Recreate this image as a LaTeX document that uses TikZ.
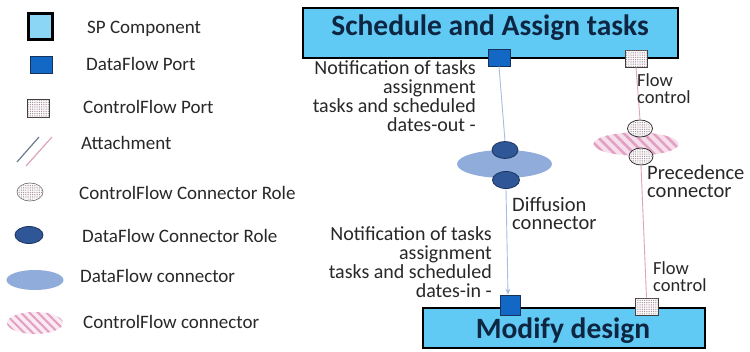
\documentclass[tikz,border=0pt]{standalone}
\usepackage{fontspec}
\setmainfont{Carlito}
\usetikzlibrary{shapes.geometric,patterns,patterns.meta,arrows.meta}
\definecolor{boxfill}{RGB}{96,202,245}
\definecolor{titlecol}{RGB}{14,38,66}
\definecolor{portblue}{RGB}{18,104,196}
\definecolor{portedge}{RGB}{20,50,90}
\definecolor{roleblue}{RGB}{47,86,150}
\definecolor{roleedge}{RGB}{28,52,96}
\definecolor{dconn}{RGB}{143,172,218}
\definecolor{hatchpink}{RGB}{226,160,196}
\definecolor{hatchbg}{RGB}{246,222,234}
\definecolor{dlinecol}{RGB}{168,190,222}
\definecolor{clinecol}{RGB}{222,164,186}
\definecolor{txt}{RGB}{40,40,40}
\definecolor{lightsp}{RGB}{140,214,245}
\definecolor{dotcol}{RGB}{150,120,135}
\tikzset{
  compbox/.style={draw=black, line width=2.6pt, fill=boxfill, rectangle, inner sep=0pt},
  dport/.style={draw=portedge, line width=0.6pt, fill=portblue, rectangle, inner sep=0pt},
  cport/.style={draw=black!75, line width=0.6pt, fill=white, rectangle, inner sep=0pt},
  dotfill/.style={draw=none, fill=none, pattern={Dots[distance=1.8pt,radius=0.5pt]}, pattern color=dotcol, inner sep=0pt},
  drole/.style={draw=roleedge, line width=0.8pt, fill=roleblue, ellipse, inner sep=0pt},
  crole/.style={draw=black!80, line width=0.8pt, fill=white, ellipse, inner sep=0pt},
  dconnector/.style={fill=dconn, ellipse, inner sep=0pt},
  cconnector/.style={fill=hatchbg, ellipse, inner sep=0pt},
  dline/.style={draw=dlinecol, line width=0.9pt},
  cline/.style={draw=clinecol, line width=0.9pt},
  titletext/.style={font=\fontsize{29.5}{32}\selectfont\bfseries, text=titlecol, inner sep=0pt},
  lbl/.style={font=\fontsize{20}{19}\selectfont, text=txt, inner sep=0pt},
  lbltwo/.style={font=\fontsize{20.5}{18.5}\selectfont, text=txt, inner sep=0pt},
  smalllbl/.style={font=\fontsize{18.5}{17.5}\selectfont, text=txt, inner sep=0pt},
  legtext/.style={font=\fontsize{19}{22}\selectfont, text=txt, inner sep=0pt, anchor=base west},
}
\begin{document}
\begin{tikzpicture}[x=1pt,y=-1pt]
\useasboundingbox (0,0) rectangle (750,351);
\fill[white] (0,0) rectangle (750,351);

% ---------- Legend ----------
\node[compbox, line width=2.4pt, fill=lightsp, minimum width=24pt, minimum height=26pt] (lsp) at (40.5,26.5) {};
\node[legtext] (tsp) at (87,33) {SP Component};
\node[dport, minimum width=22pt, minimum height=17pt] (ldp) at (41,64.5) {};
\node[legtext] (tdp) at (86,70) {DataFlow Port};
\node[cport, minimum width=22pt, minimum height=18pt] (lcp) at (38.5,108.5) {};
\node[dotfill, rectangle, minimum width=21pt, minimum height=17pt] at (38.5,108.5) {};
\node[legtext] (tcp) at (83,113) {ControlFlow Port};
\coordinate (la1) at (17,162);
\coordinate (la2) at (39,137);
\coordinate (lb1) at (26,166);
\coordinate (lb2) at (52,137);
\draw[dline, draw=black!35!dlinecol, line width=1.2pt] (la1) -- (la2);
\draw[cline, line width=1.2pt] (lb1) -- (lb2);
\node[legtext] (tat) at (81,149) {Attachment};
\node[crole, draw=black!60, line width=0.6pt, minimum width=26pt, minimum height=18pt] (lcr) at (30,192) {};
\node[dotfill, ellipse, minimum width=24pt, minimum height=16pt] at (30,192) {};
\node[legtext] (tcr) at (79,199) {ControlFlow Connector Role};
\node[drole, minimum width=28pt, minimum height=17pt] (ldr) at (29,235) {};
\node[legtext] (tdr) at (82,242) {DataFlow Connector Role};
\node[dconnector, minimum width=57pt, minimum height=20pt] (ldc) at (35,280) {};
\node[legtext] (tdc) at (80,282) {DataFlow connector};
\node[cconnector, fill=hatchbg!60, minimum width=56pt, minimum height=22pt] (lcc) at (35,323) {};
\node[ellipse, inner sep=0pt, minimum width=56pt, minimum height=22pt, pattern={Lines[angle=-45,distance=6pt,line width=2pt]}, pattern color=hatchpink] at (35,323) {};
\node[legtext] (tcc) at (83,328) {ControlFlow connector};

% ---------- Components ----------
\node[compbox, minimum width=375pt, minimum height=50pt] (topbox) at (490.5,33) {};
\node[titletext, anchor=base] (toptitle) at (490,35) {Schedule and Assign tasks};
\node[compbox, minimum width=282pt, minimum height=40pt] (botbox) at (564,328) {};
\node[titletext, anchor=base] (bottitle) at (563,338) {Modify design};

% ---------- Ports ----------
\node[dport, minimum width=22pt, minimum height=17pt] (dp1) at (499,57.5) {};
\node[cport, minimum width=22pt, minimum height=17pt] (cp1) at (636,58.5) {};
\node[dotfill, rectangle, minimum width=21pt, minimum height=16pt] at (636,58.5) {};
\node[dport, minimum width=20pt, minimum height=20pt] (dp2) at (510,305) {};
\node[cport, minimum width=23pt, minimum height=17pt] (cp2) at (646.5,306.5) {};
\node[dotfill, rectangle, minimum width=22pt, minimum height=16pt] at (646.5,306.5) {};

% ---------- Connectors ----------
\node[dconnector, minimum width=95pt, minimum height=28pt] (dconn) at (504.5,164) {};
\node[drole, minimum width=26pt, minimum height=17pt] (r1) at (505,150) {};
\node[drole, minimum width=27pt, minimum height=17pt] (r2) at (506,180) {};

\node[cconnector, minimum width=85pt, minimum height=23pt] (cconn) at (636,144) {};
\node[ellipse, inner sep=0pt, minimum width=85pt, minimum height=23pt, pattern={Lines[angle=-45,distance=7pt,line width=2.6pt]}, pattern color=hatchpink] at (636,144) {};
\node[crole, minimum width=25pt, minimum height=17pt] (cr1) at (640,128.5) {};
\node[dotfill, ellipse, minimum width=23pt, minimum height=15pt] at (640,128.5) {};
\node[crole, minimum width=24pt, minimum height=17pt] (cr2) at (641,156.5) {};
\node[dotfill, ellipse, minimum width=22pt, minimum height=15pt] at (641,156.5) {};

% ---------- Attachments ----------
\draw[dline] (dp1.south) -- (r1.north);
\draw[dline, -{Stealth[length=6pt,width=5pt]}] (r2.south) -- ([xshift=-2pt]dp2.north);
\draw[cline] (cp1.south) -- (cr1.north);
\draw[cline] (cr2.south) -- (cp2.north);

% ---------- Labels ----------
\node[lbl, align=right, anchor=north east] (nout) at (476,60) {Notification of tasks\\assignment\\tasks and scheduled\\dates-out -};
\node[lbl, align=right, anchor=north east] (nin) at (492,226) {Notification of tasks\\assignment\\tasks and scheduled\\dates-in -};
\node[lbltwo, align=left, anchor=north west] (diff) at (512,197) {Diffusion\\connector};
\node[lbltwo, align=left, anchor=north west] (prec) at (647,165) {Precedence\\connector};
\node[smalllbl, align=left, anchor=north west] (fc1) at (637,73) {Flow\\control};
\node[smalllbl, align=left, anchor=north west] (fc2) at (653,261) {Flow\\control};
\end{tikzpicture}
\end{document}
